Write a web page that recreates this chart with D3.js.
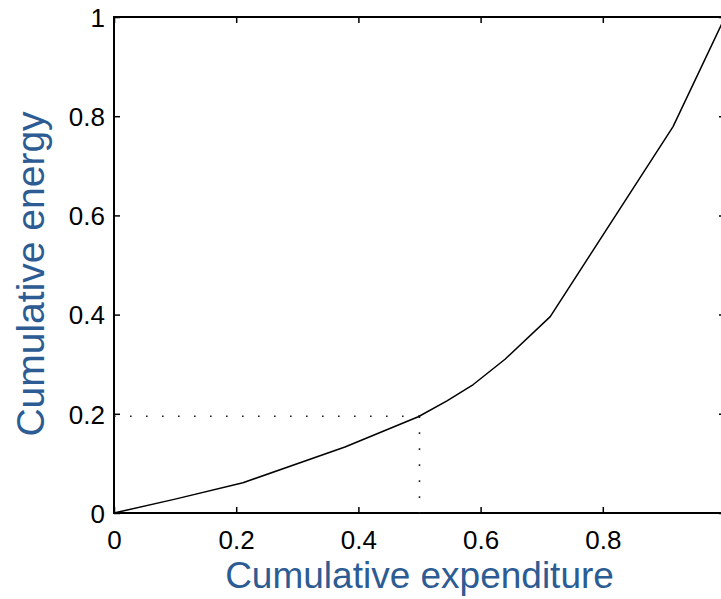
<!DOCTYPE html>
<html>
<head>
<meta charset="utf-8">
<script src="https://cdn.jsdelivr.net/npm/d3@7"></script>
<style>
  html, body { margin: 0; padding: 0; background: #fff; }
  svg { display: block; font-family: "Liberation Sans", Arial, sans-serif; }
</style>
</head>
<body>
<div id="chart"></div>
<script>
// Curve (cumulative expenditure vs cumulative energy)
const expenditure = [0, 0.1, 0.211, 0.378, 0.498, 0.545, 0.588, 0.64, 0.714, 0.915, 1.0];
const energy = [0, 0.028, 0.061, 0.133, 0.194, 0.226, 0.259, 0.31, 0.396, 0.779, 1.0];

// Dotted guide marks
const markX = [0.5];
const markY = [0.195];

const xTicks = [0, 0.2, 0.4, 0.6, 0.8, 1];
const xTickLabels = ["0", "0.2", "0.4", "0.6", "0.8", ""]; // the "1" falls outside the picture
const yTicks = [0, 0.2, 0.4, 0.6, 0.8, 1];
const yTickLabels = ["0", "0.2", "0.4", "0.6", "0.8", "1"];

const width = 721;
const height = 599;
const margin = { top: 17, right: -4, bottom: 86, left: 114 };
const titleColor = "#2c5c93";

const svg = d3.select("#chart").append("svg").attr("width", width).attr("height", height);

const x = d3.scaleLinear().domain([0, 1]).range([margin.left, width - margin.right]);
const y = d3.scaleLinear().domain([0, 1]).range([height - margin.bottom, margin.top]);

// Tick marks pointing inward on all four sides
const tickLen = 6;
function styleAxis(g) {
  g.select(".domain").remove();
  g.selectAll(".tick line").attr("stroke", "#000").attr("stroke-width", 1.5);
  g.selectAll(".tick text").attr("fill", "#000").attr("font-size", 26);
}

svg.append("g")
  .attr("transform", `translate(0,${y(0)})`)
  .call(d3.axisBottom(x).tickValues(xTicks).tickSize(-tickLen).tickFormat((d, i) => xTickLabels[i]))
  .call(styleAxis)
  .call((g) => g.selectAll(".tick text").attr("y", 18).attr("dy", "0.71em"));

svg.append("g")
  .attr("transform", `translate(0,${y(1)})`)
  .call(d3.axisTop(x).tickValues(xTicks).tickSize(-tickLen).tickFormat(""))
  .call(styleAxis);

svg.append("g")
  .attr("transform", `translate(${x(0)},0)`)
  .call(d3.axisLeft(y).tickValues(yTicks).tickSize(-tickLen).tickFormat((d, i) => yTickLabels[i]))
  .call(styleAxis)
  .call((g) => g.selectAll(".tick text").attr("x", -9).attr("dy", "0.36em"));

svg.append("g")
  .attr("transform", `translate(${x(1)},0)`)
  .call(d3.axisRight(y).tickValues(yTicks).tickSize(-tickLen).tickFormat(""))
  .call(styleAxis);

// Box frame
svg.append("rect")
  .attr("x", x(0))
  .attr("y", y(1))
  .attr("width", x(1) - x(0))
  .attr("height", y(0) - y(1))
  .attr("fill", "none")
  .attr("stroke", "#000")
  .attr("stroke-width", 2);

// Dotted guides
const dots = svg.append("g")
  .attr("stroke", "#222")
  .attr("stroke-width", 1.6)
  .attr("stroke-dasharray", "1.6 14.4");

dots.append("line")
  .attr("x1", x(0)).attr("y1", y(markY[0]))
  .attr("x2", x(markX[0])).attr("y2", y(markY[0]));

dots.append("line")
  .attr("x1", x(markX[0])).attr("y1", y(markY[0]))
  .attr("x2", x(markX[0])).attr("y2", y(0));

// Curve
const line = d3.line()
  .x((d, i) => x(expenditure[i]))
  .y((d, i) => y(energy[i]));

svg.append("path")
  .datum(expenditure)
  .attr("d", line)
  .attr("fill", "none")
  .attr("stroke", "#000")
  .attr("stroke-width", 1.5)
  .attr("stroke-linejoin", "round");

// Axis titles
svg.append("text")
  .attr("x", x(0.5))
  .attr("y", 588)
  .attr("text-anchor", "middle")
  .attr("font-size", 37)
  .attr("fill", titleColor)
  .text("Cumulative expenditure");

svg.append("text")
  .attr("transform", `translate(44,${(y(0) + y(1)) / 2 + 9}) rotate(-90)`)
  .attr("text-anchor", "middle")
  .attr("font-size", 39)
  .attr("fill", titleColor)
  .text("Cumulative energy");
</script>
</body>
</html>
